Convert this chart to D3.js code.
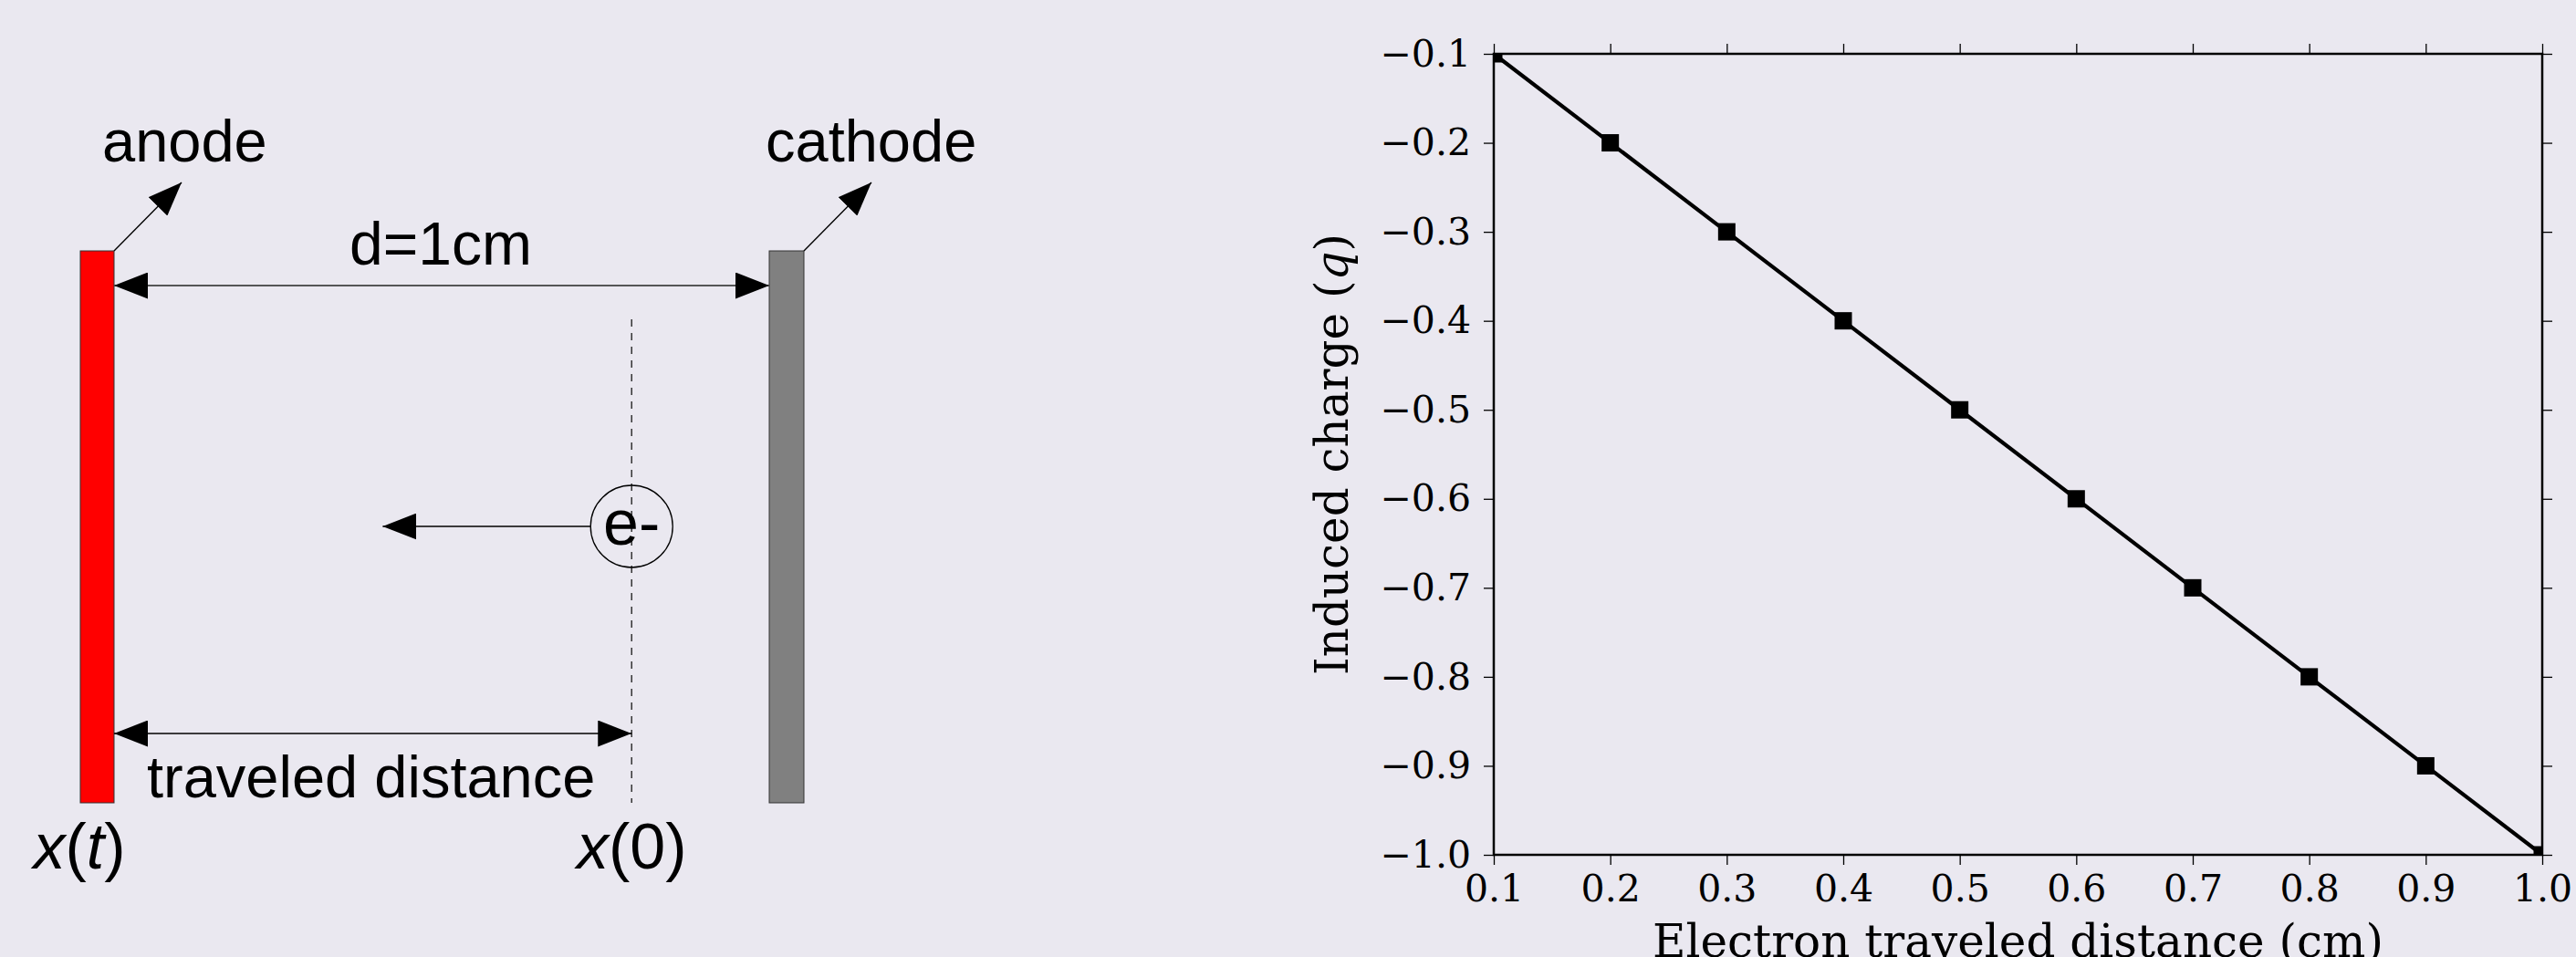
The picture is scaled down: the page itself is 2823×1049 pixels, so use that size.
<!DOCTYPE html>
<html>
<head>
<meta charset="utf-8">
<script src="https://cdn.jsdelivr.net/npm/d3@7"></script>
<style>
  html, body { margin: 0; padding: 0; background: #eae8f0; }
  svg { display: block; }
</style>
</head>
<body>
<svg id="chart" width="2823" height="1049"></svg>
<script>
// ---------------- Data ----------------
const distanceValues = [0.1, 0.2, 0.3, 0.4, 0.5, 0.6, 0.7, 0.8, 0.9, 1.0];
const chargeValues = [-0.1, -0.2, -0.3, -0.4, -0.5, -0.6, -0.7, -0.8, -0.9, -1.0];
const xTickValues = [0.1, 0.2, 0.3, 0.4, 0.5, 0.6, 0.7, 0.8, 0.9, 1.0];
const yTickValues = [-0.1, -0.2, -0.3, -0.4, -0.5, -0.6, -0.7, -0.8, -0.9, -1.0];
const xLabel = "Electron traveled distance (cm)";
const yLabelMain = "Induced charge (";
const yLabelVar = "q";

// schematic (in cm between anode at 0 and cathode at 1)
const electronStart = 0.79;
const electronArrowTip = 0.41;
const gapLabel = "d=1cm";
const travelLabel = "traveled distance";

const bg = "#eae8f0";
const svg = d3.select("#chart");
svg.append("rect").attr("width", 2823).attr("height", 1049).attr("fill", bg);

// arrow marker defs
const defs = svg.append("defs");
function addMarker(id, len, half) {
  defs.append("marker")
    .attr("id", id)
    .attr("markerUnits", "userSpaceOnUse")
    .attr("viewBox", `0 ${-half} ${len} ${2*half}`)
    .attr("refX", len).attr("refY", 0)
    .attr("markerWidth", len).attr("markerHeight", 2*half)
    .attr("orient", "auto-start-reverse")
    .append("path")
    .attr("d", `M0,${-half}L${len},0L0,${half}Z`)
    .attr("fill", "#000");
}
addMarker("head", 37, 14.5);

// ---------------- Left schematic ----------------
const sx = d3.scaleLinear().domain([0, 1]).range([125, 843]);
const plateW = 37, plateTop = 275, plateBottom = 880;
const sans = "'Liberation Sans', Arial, Helvetica, sans-serif";
const g1 = svg.append("g");

// plates
g1.append("rect").attr("x", sx(0) - plateW).attr("y", plateTop)
  .attr("width", plateW).attr("height", plateBottom - plateTop)
  .attr("fill", "#ff0000").attr("stroke", "#333").attr("stroke-width", 1);
g1.append("rect").attr("x", sx(1)).attr("y", plateTop)
  .attr("width", plateW + 1).attr("height", plateBottom - plateTop)
  .attr("fill", "#808080").attr("stroke", "#333").attr("stroke-width", 1);

// pointer arrows to labels
[[sx(0), "anode", 112], [sx(1) + plateW + 1, "cathode", 839]].forEach(([px, lbl, tx]) => {
  g1.append("line").attr("x1", px).attr("y1", plateTop).attr("x2", px + 74).attr("y2", plateTop - 75)
    .attr("stroke", "#000").attr("stroke-width", 1.4).attr("marker-end", "url(#head)");
  g1.append("text").attr("x", tx).attr("y", 177).text(lbl)
    .attr("font-family", sans).attr("font-size", 65).attr("fill", "#000");
});

// d=1cm double arrow
g1.append("line").attr("x1", sx(0)).attr("x2", sx(1)).attr("y1", 313).attr("y2", 313)
  .attr("stroke", "#555").attr("stroke-width", 2)
  .attr("marker-start", "url(#head)").attr("marker-end", "url(#head)");
g1.append("text").attr("x", 383).attr("y", 290).text(gapLabel)
  .attr("font-family", sans).attr("font-size", 66).attr("fill", "#000");

// dashed start line
g1.append("line").attr("x1", sx(electronStart)).attr("x2", sx(electronStart))
  .attr("y1", 350).attr("y2", plateBottom)
  .attr("stroke", "#333").attr("stroke-width", 1.5).attr("stroke-dasharray", "8,7");

// electron
const ey = 577, er = 45;
g1.append("circle").attr("cx", sx(electronStart)).attr("cy", ey).attr("r", er)
  .attr("fill", "none").attr("stroke", "#000").attr("stroke-width", 1.3);
g1.append("text").attr("x", sx(electronStart)).attr("y", 597).attr("text-anchor", "middle")
  .text("e-").attr("font-family", sans).attr("font-size", 70).attr("fill", "#000");
g1.append("line").attr("x1", sx(electronStart) - er).attr("x2", sx(electronArrowTip))
  .attr("y1", ey).attr("y2", ey).attr("stroke", "#000").attr("stroke-width", 1.5)
  .attr("marker-end", "url(#head)");

// traveled distance
g1.append("line").attr("x1", sx(0)).attr("x2", sx(electronStart)).attr("y1", 804).attr("y2", 804)
  .attr("stroke", "#000").attr("stroke-width", 1.5)
  .attr("marker-start", "url(#head)").attr("marker-end", "url(#head)");
g1.append("text").attr("x", 161).attr("y", 874).text(travelLabel)
  .attr("font-family", sans).attr("font-size", 65).attr("fill", "#000");

// x(t), x(0)
[[87, "t"], [sx(electronStart), "0"]].forEach(([cx, arg]) => {
  const t = g1.append("text").attr("x", cx).attr("y", 952).attr("text-anchor", "middle")
    .attr("font-family", sans).attr("font-size", 70).attr("fill", "#000");
  t.append("tspan").attr("font-style", "italic").text("x");
  t.append("tspan").text("(");
  t.append("tspan").attr("font-style", arg === "t" ? "italic" : "normal").text(arg);
  t.append("tspan").text(")");
});

// ---------------- Right chart ----------------
const pL = 1637, pR = 2786, pT = 59, pB = 937;
const x = d3.scaleLinear().domain([0.1, 1.0]).range([pL, pR]);
const y = d3.scaleLinear().domain([-1.0, -0.1]).range([pB, pT]);
const serif = "'DejaVu Serif', serif";
const fmt = d3.format(".1f");

function styleAxis(g) {
  g.select(".domain").remove();
  g.selectAll(".tick line").attr("stroke", "#000").attr("stroke-width", 1.3);
  g.selectAll(".tick text").attr("font-family", serif).attr("font-size", 41).attr("fill", "#000");
}

svg.append("g").attr("transform", `translate(0,${pB})`)
  .call(d3.axisBottom(x).tickValues(xTickValues).tickSize(11).tickPadding(11).tickFormat(fmt))
  .call(styleAxis);
svg.append("g").attr("transform", `translate(0,${pT})`)
  .call(d3.axisTop(x).tickValues(xTickValues).tickSize(11).tickFormat(""))
  .call(styleAxis);
svg.append("g").attr("transform", `translate(${pL},0)`)
  .call(d3.axisLeft(y).tickValues(yTickValues).tickSize(11).tickPadding(14).tickFormat(fmt))
  .call(styleAxis);
svg.append("g").attr("transform", `translate(${pR},0)`)
  .call(d3.axisRight(y).tickValues(yTickValues).tickSize(11).tickFormat(""))
  .call(styleAxis);

// clip
defs.append("clipPath").attr("id", "plotclip").append("rect")
  .attr("x", pL).attr("y", pT).attr("width", pR - pL).attr("height", pB - pT);

const pts = distanceValues.map((d, i) => [d, chargeValues[i]]);
const plot = svg.append("g").attr("clip-path", "url(#plotclip)");
plot.append("path").datum(pts)
  .attr("d", d3.line().x(d => x(d[0])).y(d => y(d[1])))
  .attr("fill", "none").attr("stroke", "#000").attr("stroke-width", 4.2);
const ms = 19;
plot.selectAll("rect.m").data(pts).join("rect").attr("class", "m")
  .attr("x", d => x(d[0]) - ms / 2).attr("y", d => y(d[1]) - ms / 2)
  .attr("width", ms).attr("height", ms).attr("fill", "#000");

// spines
svg.append("rect").attr("x", pL).attr("y", pT).attr("width", pR - pL).attr("height", pB - pT)
  .attr("fill", "none").attr("stroke", "#000").attr("stroke-width", 2.5);

// axis labels
svg.append("text").attr("x", (pL + pR) / 2).attr("y", 1049).attr("text-anchor", "middle")
  .attr("font-family", serif).attr("font-size", 50).attr("fill", "#000").text(xLabel);
const yl = svg.append("text")
  .attr("transform", `translate(1477,${(pT + pB) / 2}) rotate(-90)`)
  .attr("text-anchor", "middle").attr("font-family", serif).attr("font-size", 50).attr("fill", "#000");
yl.append("tspan").text(yLabelMain);
yl.append("tspan").attr("font-style", "italic").text(yLabelVar);
yl.append("tspan").text(")");
</script>
</body>
</html>
